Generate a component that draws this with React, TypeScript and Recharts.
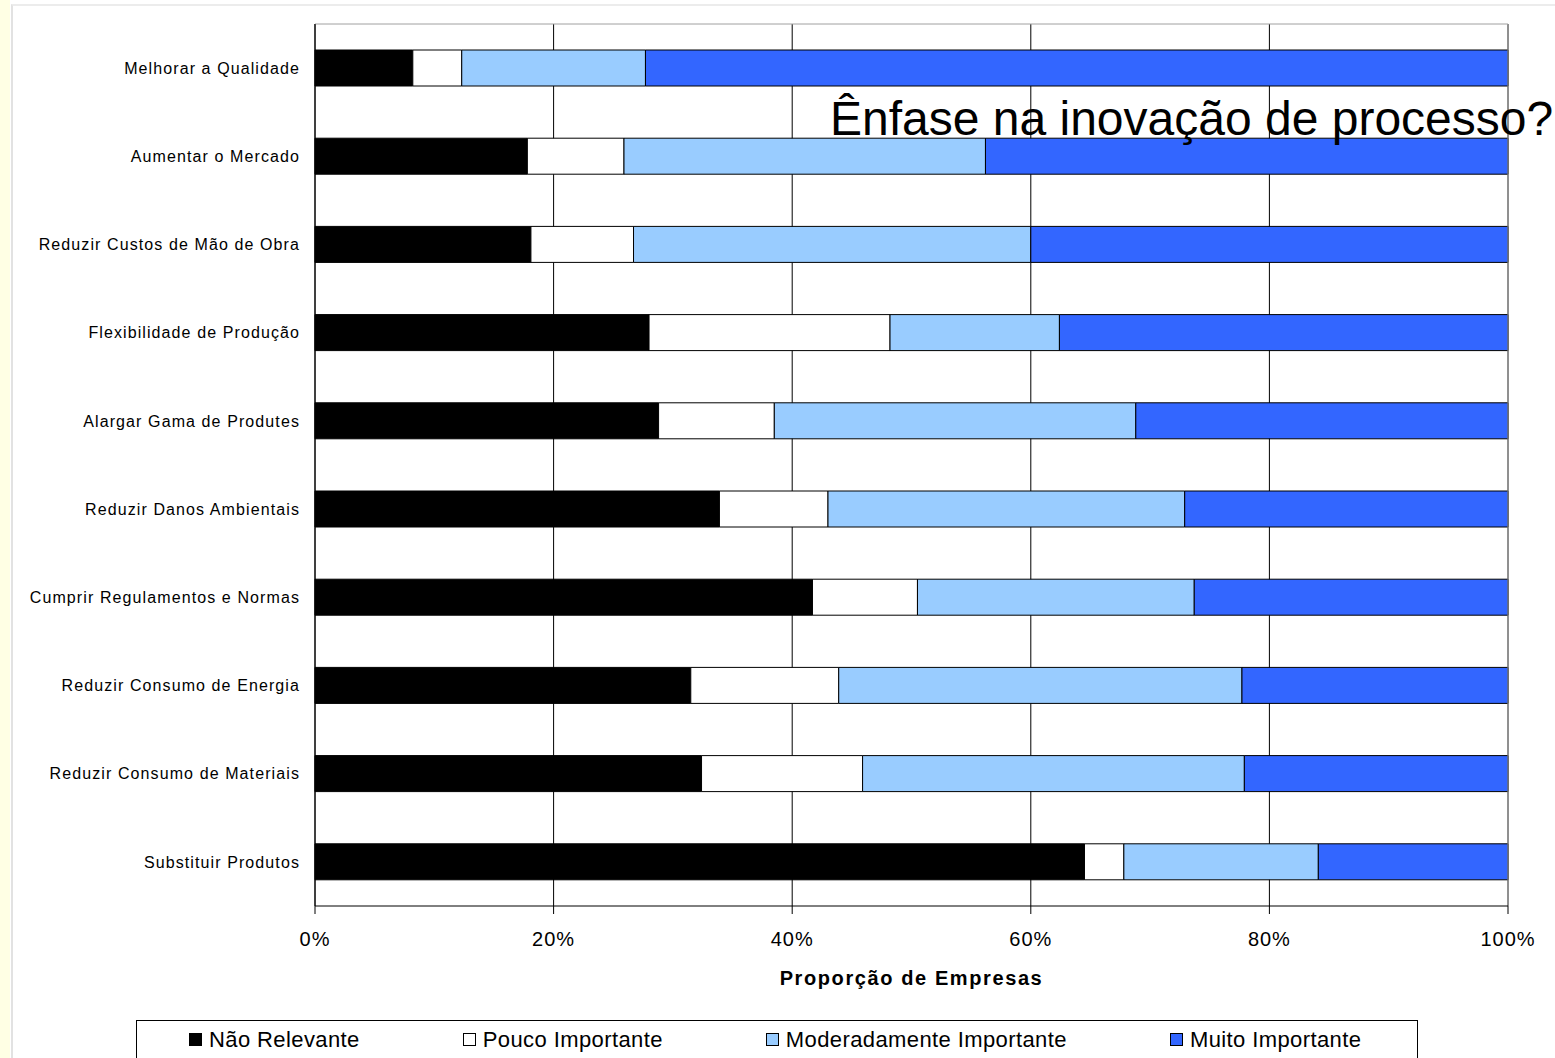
import React from "react";
import {
  BarChart,
  Bar,
  XAxis,
  YAxis,
  CartesianGrid,
  Legend,
  ReferenceLine,
} from "recharts";

const categories = [
  "Melhorar a Qualidade",
  "Aumentar o Mercado",
  "Reduzir Custos de Mão de Obra",
  "Flexibilidade de Produção",
  "Alargar Gama de Produtes",
  "Reduzir Danos Ambientais",
  "Cumprir Regulamentos e Normas",
  "Reduzir Consumo de Energia",
  "Reduzir Consumo de Materiais",
  "Substituir Produtos",
];

const naoRelevante = [8.2, 17.8, 18.1, 28.0, 28.8, 33.9, 41.7, 31.5, 32.4, 64.5];
const poucoImportante = [4.1, 8.1, 8.6, 20.2, 9.7, 9.1, 8.8, 12.4, 13.5, 3.3];
const moderadamente = [15.4, 30.3, 33.3, 14.2, 30.3, 29.9, 23.2, 33.8, 32.0, 16.3];
const muitoImportante = [72.3, 43.8, 40.0, 37.6, 31.2, 27.1, 26.3, 22.3, 22.1, 15.9];

const xTicks = [0, 20, 40, 60, 80, 100];

const series = [
  { key: "nr", name: "Não Relevante", color: "#000000" },
  { key: "pi", name: "Pouco Importante", color: "#ffffff" },
  { key: "mo", name: "Moderadamente Importante", color: "#99ccff" },
  { key: "mu", name: "Muito Importante", color: "#3366ff" },
];

const data = categories.map((c, i) => ({
  name: c,
  nr: naoRelevante[i],
  pi: poucoImportante[i],
  mo: moderadamente[i],
  mu: muitoImportante[i],
}));

const font = "Arial, 'Liberation Sans', sans-serif";

function LegendBox() {
  return (
    <div
      style={{
        boxSizing: "border-box",
        width: "100%",
        height: "100%",
        border: "1px solid #000",
        borderBottom: "none",
        display: "flex",
        alignItems: "center",
        gap: 103,
        paddingLeft: 52,
        fontFamily: font,
        fontSize: 22,
        letterSpacing: 0.4,
        color: "#000",
      }}
    >
      {series.map((s) => (
        <div key={s.key} style={{ display: "flex", alignItems: "center" }}>
          <span
            style={{
              display: "inline-block",
              boxSizing: "border-box",
              width: 13,
              height: 13,
              background: s.color,
              border: "1px solid #000",
              marginRight: 7,
            }}
          />
          <span>{s.name}</span>
        </div>
      ))}
    </div>
  );
}

export default function App() {
  return (
    <div
      style={{
        position: "fixed",
        left: 0,
        top: 0,
        width: 1555,
        height: 1058,
        overflow: "hidden",
        background: "#ffffff",
      }}
    >
      <div
        style={{
          position: "absolute",
          left: 0,
          top: 0,
          width: 10,
          height: 1058,
          background: "#ffffe4",
        }}
      />
      <div
        style={{
          position: "absolute",
          left: 11,
          top: 4,
          width: 1544,
          height: 1054,
          borderLeft: "2px solid #e2e2e2",
          borderTop: "2px solid #ececec",
        }}
      />
      <div style={{ position: "absolute", left: 0, top: 0 }}>
        <BarChart
          width={1555}
          height={1058}
          data={data}
          layout="vertical"
          margin={{ top: 24, right: 47, bottom: 92, left: 0 }}
          barSize={36}
        >
          <CartesianGrid horizontal={false} stroke="#000" strokeWidth={1} />
          <CartesianGrid vertical={false} horizontalPoints={[24]} stroke="#a0a0a0" />
          <XAxis
            type="number"
            domain={[0, 100]}
            ticks={xTicks}
            tickFormatter={(v) => `${v}%`}
            axisLine={{ stroke: "#000" }}
            tickLine={{ stroke: "#000" }}
            tickSize={8}
            tickMargin={18}
            height={60}
            tick={{ fill: "#000", fontSize: 20, fontFamily: font, letterSpacing: 1 }}
            label={({ viewBox }: any) => (
              <text
                x={viewBox.x + viewBox.width / 2}
                y={viewBox.y + 72}
                textAnchor="middle"
                dominantBaseline="central"
                fontFamily={font}
                fontSize={20}
                fontWeight="bold"
                letterSpacing={1.6}
                fill="#000"
              >
                Proporção de Empresas
              </text>
            )}
          />
          <YAxis
            type="category"
            dataKey="name"
            width={315}
            axisLine={{ stroke: "#000" }}
            tickLine={false}
            tickSize={0}
            tickMargin={15}
            interval={0}
            tick={{ fill: "#000", fontSize: 16, fontFamily: font, letterSpacing: 1.1 }}
          />
          <ReferenceLine x={100} stroke="#a0a0a0" />
          {series.map((s) => (
            <Bar
              key={s.key}
              dataKey={s.key}
              name={s.name}
              stackId="a"
              fill={s.color}
              stroke="#000"
              strokeWidth={1}
              isAnimationActive={false}
            />
          ))}
          <Legend
            layout="horizontal"
            verticalAlign="middle"
            align="center"
            wrapperStyle={{ left: 136, top: 1020, width: 1282, height: 38 }}
            content={() => <LegendBox />}
          />
        </BarChart>
      </div>
      <div
        style={{
          position: "absolute",
          left: 830,
          top: 90,
          fontFamily: font,
          fontSize: 48,
          lineHeight: "58px",
          color: "#000",
          whiteSpace: "nowrap",
        }}
      >
        Ênfase na inovação de processo?
      </div>
    </div>
  );
}
